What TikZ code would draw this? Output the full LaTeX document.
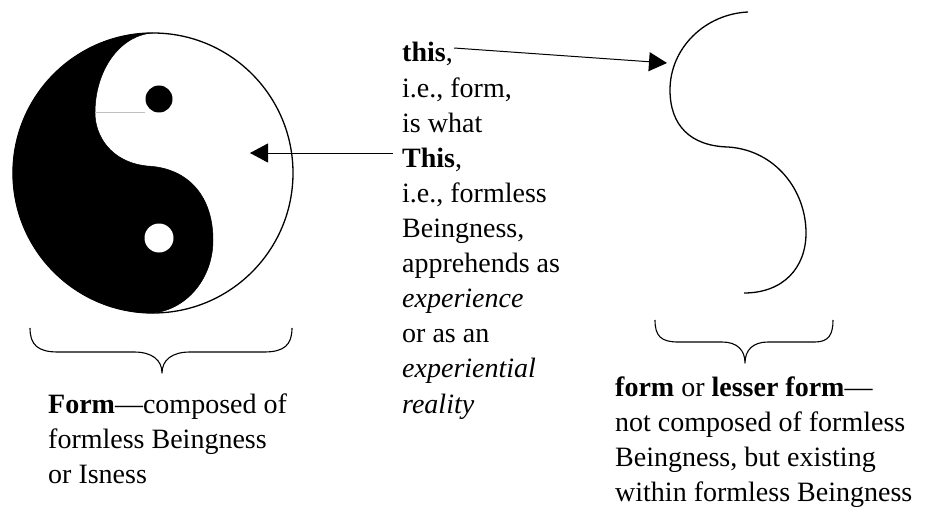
\documentclass[tikz,border=0pt]{standalone}
\usepackage{fontspec}
\setmainfont{Liberation Serif}
\usetikzlibrary{arrows.meta}
\tikzset{
  txt/.style={inner sep=0pt, anchor=base west, font=\fontsize{28}{35.1}\selectfont},
  conn/.style={line width=1pt, -{Triangle[length=18pt,width=19pt]}},
  bracepath/.style={line width=1.1pt, line join=round},
  outline/.style={line width=1.3pt}
}
\newcommand{\blocktext}[1]{\parbox[t]{320pt}{\raggedright\fontsize{28}{35.1}\selectfont #1}}
\begin{document}
\begin{tikzpicture}[x=1pt,y=-1pt]
\useasboundingbox (0,0) rectangle (925,508);
% yin-yang
\fill[black,draw=black,line width=0.5pt] (153,33) arc[start angle=-90,end angle=-270,radius=140]
  .. controls (185,310) and (213,280) .. (213,240)
  .. controls (213,198) and (190,168) .. (147,166)
  .. controls (110,162) and (95,135) .. (95,113)
  .. controls (95,70) and (120,35) .. (153,33) -- cycle;
\node[circle, draw=black, line width=1.3pt, minimum size=280pt, inner sep=0pt] (yy) at (153,173) {};
\draw[gray!50, line width=0.5pt] (95,112) -- (145,112);
\fill[black] (159,99) circle[radius=13.5];
\fill[white] (159,238) circle[radius=14.5];
% S curve
\draw[outline] (748,12) .. controls (705,14) and (670,48) .. (670,90)
  .. controls (670,125) and (690,146) .. (728,147)
  .. controls (775,150) and (806,190) .. (806,233)
  .. controls (806,268) and (783,293) .. (744,293);
% texts
\node[txt] (mid) at (402,62) {\blocktext{\textbf{this},\\ i.e., form,\\ is what\\ \textbf{This},\\ i.e., formless\\ Beingness,\\ apprehends as\\ \textit{experience}\\ or as an\\ \textit{experiential}\\ \textit{reality}}};
\node[txt] (leftcap) at (48,413) {\blocktext{\textbf{Form}---composed of\\ formless Beingness\\ or Isness}};
\node[txt] (rightcap) at (615,396) {\blocktext{\textbf{form} or \textbf{lesser form}---\\ not composed of formless\\ Beingness, but existing\\ within formless Beingness}};
% connectors
\coordinate (thisA) at (454,48);
\coordinate (sTip) at (667,63);
\coordinate (ThisA) at (393,153);
\coordinate (yyTip) at (250,153);
\draw[conn] (thisA) -- (sTip);
\draw[conn] (ThisA) -- (yyTip);
% braces
\draw[bracepath] (30,328) .. controls (30,345) and (38,352) .. (58,352) -- (134,352)
  .. controls (152,352) and (162,360) .. (162,373)
  .. controls (162,360) and (172,352) .. (190,352) -- (264,352)
  .. controls (284,352) and (292,345) .. (292,328);
\draw[bracepath] (655,320) .. controls (655,336) and (661,342) .. (678,342) -- (722,342)
  .. controls (737,342) and (745,350) .. (745,363)
  .. controls (745,350) and (753,342) .. (768,342) -- (815,342)
  .. controls (829,342) and (833,334) .. (833,320);
\end{tikzpicture}
\end{document}
